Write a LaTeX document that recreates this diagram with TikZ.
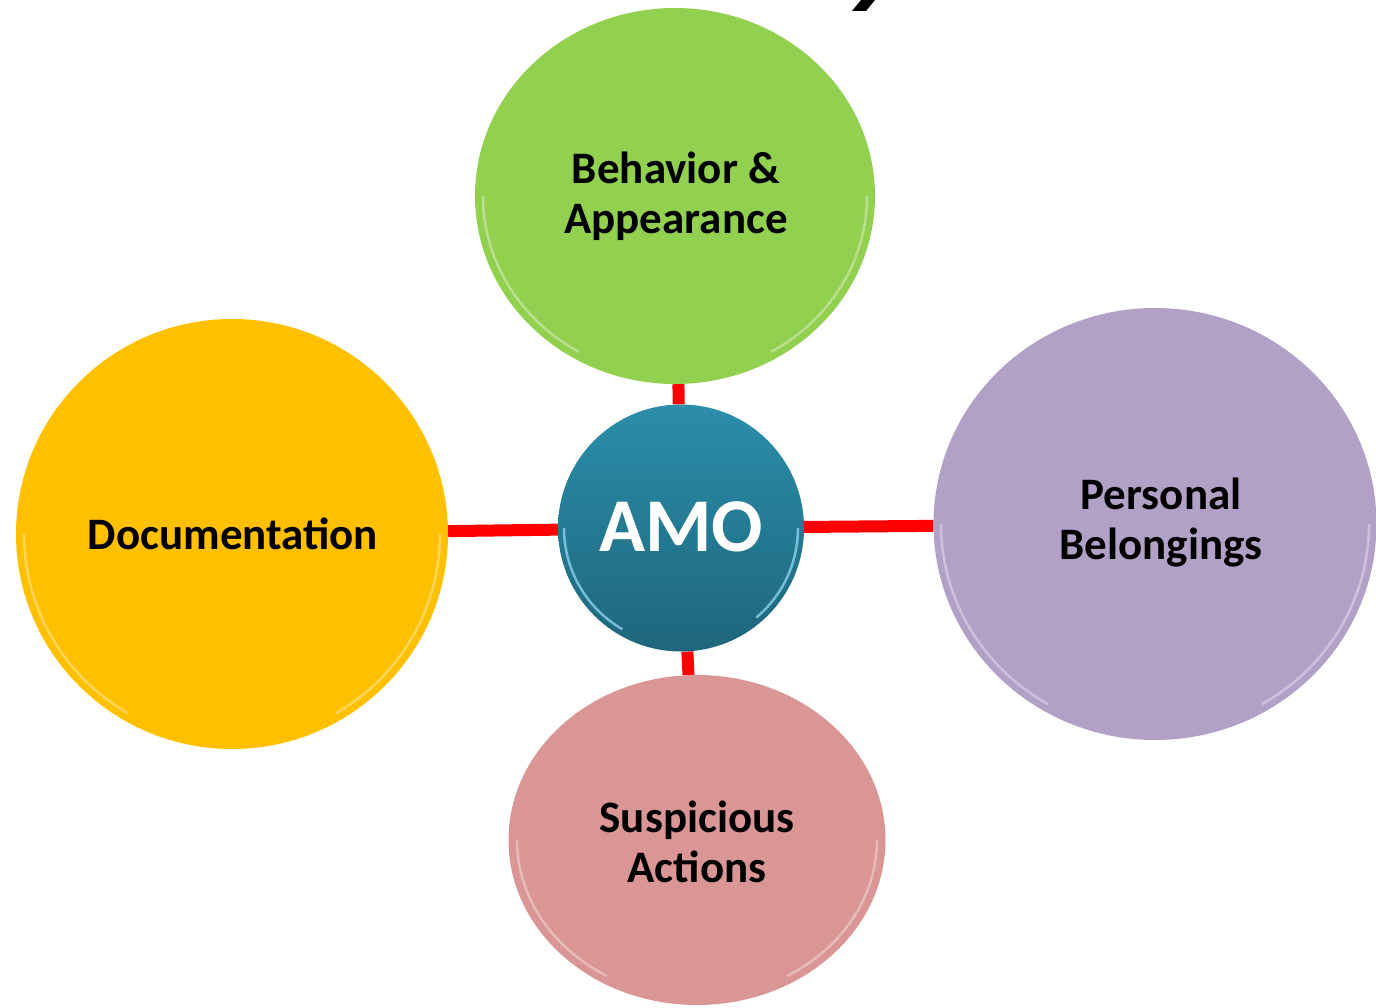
\documentclass[tikz,border=0pt]{standalone}
\usepackage{fontspec}
\setmainfont{Carlito}
\usetikzlibrary{shapes.geometric,backgrounds}
\definecolor{cgreen}{HTML}{92D050}
\definecolor{cyellow}{HTML}{FFC000}
\definecolor{cpurple}{HTML}{B2A1C7}
\definecolor{cpink}{HTML}{D99694}
\definecolor{ctealtop}{HTML}{2B8EAA}
\definecolor{ctealbot}{HTML}{1E667C}
\definecolor{cred}{HTML}{FF0000}
\tikzset{
  ball/.style={ellipse, inner sep=0pt},
  link/.style={draw=cred, line width=12pt},
  lbl/.style={align=center, font=\bfseries\fontsize{45}{50}\selectfont, text=black},
  rim/.style={white, opacity=0.35, line width=2.5pt},
}
\begin{document}
\begin{tikzpicture}[x=1pt,y=-1pt]
\useasboundingbox (0,0) rectangle (1376,1008);
% cut-off title fragment
\fill[black] (852,11) -- (866,11) -- (875,0) -- (861,0) -- cycle;

% circles
\node[ball, fill=cgreen, minimum width=400pt, minimum height=376pt] (beh) at (675,196) {};
\node[ball, fill=cyellow, minimum width=432pt, minimum height=430pt] (doc) at (232,534) {};
\node[ball, fill=cpurple, minimum width=443pt, minimum height=432pt] (pers) at (1155,524) {};
\node[ball, fill=cpink, minimum width=377pt, minimum height=330pt] (susp) at (697,840) {};
\node[ball, top color=ctealtop, bottom color=ctealbot, minimum width=246pt, minimum height=247pt] (amo) at (681,528) {};

% glossy rims
\draw[rim] (beh.center) ++(192,0) arc[start angle=0, end angle=-60, x radius=192pt, y radius=180pt];
\draw[rim] (beh.center) ++(-192,0) arc[start angle=180, end angle=240, x radius=192pt, y radius=180pt];
\draw[rim] (doc.center) ++(208,0) arc[start angle=0, end angle=-60, x radius=208pt, y radius=207pt];
\draw[rim] (doc.center) ++(-208,0) arc[start angle=180, end angle=240, x radius=208pt, y radius=207pt];
\draw[rim] (pers.center) ++(214,0) arc[start angle=0, end angle=-60, x radius=214pt, y radius=208pt];
\draw[rim] (pers.center) ++(-214,0) arc[start angle=180, end angle=240, x radius=214pt, y radius=208pt];
\draw[rim] (susp.center) ++(180,0) arc[start angle=0, end angle=-60, x radius=180pt, y radius=157pt];
\draw[rim] (susp.center) ++(-180,0) arc[start angle=180, end angle=240, x radius=180pt, y radius=157pt];
\draw[cyan!40, opacity=0.7, line width=2.5pt] (amo.center) ++(117,0) arc[start angle=0, end angle=-50, x radius=117pt, y radius=117pt];
\draw[cyan!40, opacity=0.7, line width=2.5pt] (amo.center) ++(-117,0) arc[start angle=180, end angle=240, x radius=117pt, y radius=117pt];

% labels
\node[lbl] (tbeh) at (676,196) {Behavior \&\\Appearance};
\node[lbl] (tdoc) at (233,534) {Documentation};
\node[lbl] (tpers) at (1161,523) {Personal\\Belongings};
\node[lbl] (tsusp) at (697,842) {Suspicious\\Actions};
\node[font=\bfseries\fontsize{76}{80}\selectfont, text=white] (tamo) at (681,527) {AMO};

% connectors
\begin{scope}[on background layer]
\draw[link] (beh) -- (amo);
\draw[link] (doc) -- (amo);
\draw[link] (amo) -- (pers);
\draw[link] (amo) -- (susp);
\end{scope}
\end{tikzpicture}
\end{document}
